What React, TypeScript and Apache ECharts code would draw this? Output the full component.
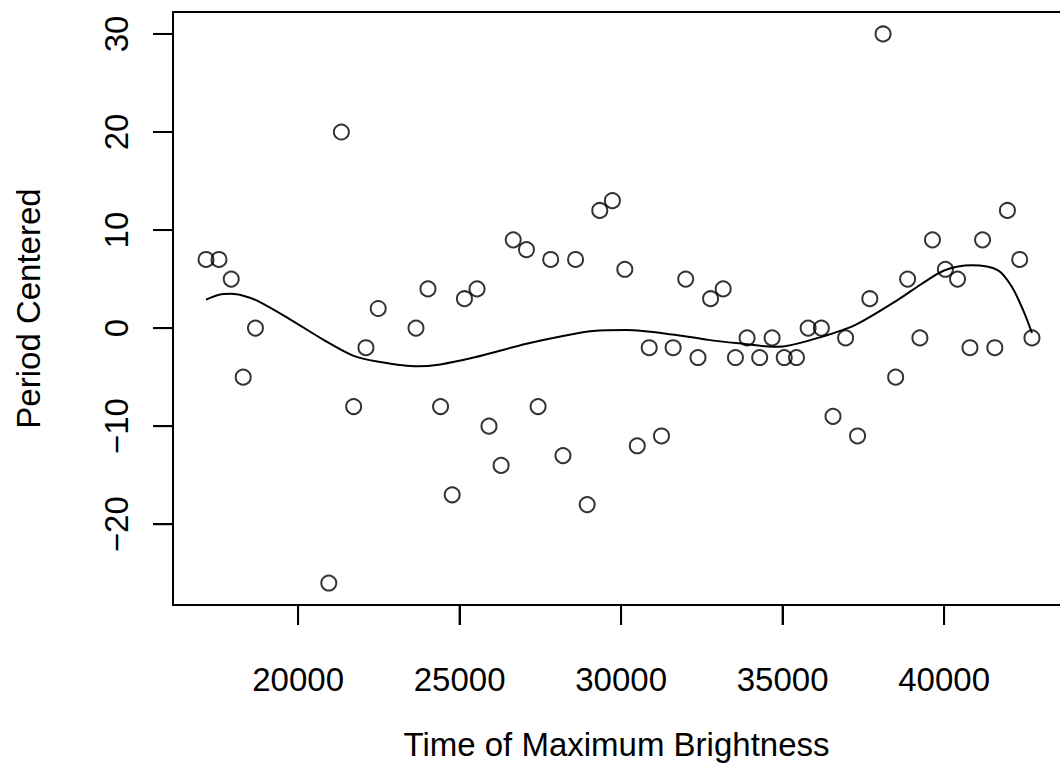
import React, { useEffect, useRef } from "react";
import * as echarts from "echarts";

// Observed points: time of maximum brightness vs. period (centered)
const timeValues: number[] = [
  17150, 17550, 17930, 18300, 18680, 20950, 21340, 21720, 22100, 22480,
  23650, 24020, 24410, 24770, 25150, 25540, 25910, 26285, 26660, 27070,
  27430, 27820, 28200, 28590, 28950, 29340, 29730, 30115, 30500, 30870,
  31250, 31610, 32000, 32380, 32770, 33160, 33540, 33900, 34290, 34675,
  35050, 35430, 35790, 36200, 36560, 36950, 37320, 37700, 38110, 38500,
  38870, 39250, 39640, 40040, 40415, 40800, 41190, 41570, 41960, 42340,
  42720,
];
const periodValues: number[] = [
  7, 7, 5, -5, 0, -26, 20, -8, -2, 2,
  0, 4, -8, -17, 3, 4, -10, -14, 9, 8,
  -8, 7, -13, 7, -18, 12, 13, 6, -12, -2,
  -11, -2, 5, -3, 3, 4, -3, -1, -3, -1,
  -3, -3, 0, 0, -9, -1, -11, 3, 30, -5,
  5, -1, 9, 6, 5, -2, 9, -2, 12, 7,
  -1,
];

// Smooth fitted curve
const curveTime: number[] = [
  17150, 17550, 17930, 18300, 18730, 19700, 20790, 21700, 22450, 23680,
  24400, 25440, 27070, 28200, 29130, 30170, 31710, 32700, 33780, 34700,
  35070, 36100, 37240, 38580, 39300, 40020, 40850, 41670, 42100, 42450,
  42720,
];
const curvePeriod: number[] = [
  2.9, 3.4, 3.5, 3.3, 2.8, 1.0, -1.2, -2.8, -3.4, -3.9,
  -3.7, -3.0, -1.6, -0.8, -0.3, -0.2, -0.7, -1.2, -1.6, -1.9,
  -1.85, -1.0, 0.3, 2.9, 4.5, 5.9, 6.4, 5.9, 4.2, 1.8,
  -0.5,
];

const xTicks: number[] = [20000, 25000, 30000, 35000, 40000];
const yTicks: number[] = [-20, -10, 0, 10, 20, 30];

const FONT = "'Liberation Sans', Arial, Helvetica, sans-serif";
const FS = 33;
const TICK_LEN = 20;

export default function App() {
  const ref = useRef<HTMLDivElement>(null);

  useEffect(() => {
    if (!ref.current) return;
    const chart = echarts.init(ref.current, null, { renderer: "svg" });

    const xmin = Math.min(...timeValues);
    const xmax = Math.max(...timeValues);
    const ymin = Math.min(...periodValues);
    const ymax = Math.max(...periodValues);
    const xr = xmax - xmin;
    const yr = ymax - ymin;
    // R-style 4% padding; the frame's right edge falls just past the canvas
    const xLo = xmin - 0.04 * xr;
    const xHiFull = xmax + 0.04 * xr;
    const yLo = ymin - 0.04 * yr;
    const yHi = ymax + 0.04 * yr;
    const gridLeft = 173;
    const gridTop = 12;
    const gridBottom = 162;
    const fullWidth = 1065 - gridLeft;
    const visWidth = 1060 - gridLeft;
    const xHi = xLo + (xHiFull - xLo) * (visWidth / fullWidth);

    const lineStyle = { color: "#000", width: 2 };

    chart.setOption({
      animation: false,
      backgroundColor: "#ffffff",
      grid: {
        left: gridLeft,
        top: gridTop,
        right: 0,
        bottom: gridBottom,
      },
      xAxis: [
        {
          type: "value",
          position: "bottom",
          min: xLo,
          max: xHi,
          splitLine: { show: false },
          axisLine: { show: true, onZero: false, lineStyle },
          axisTick: { show: true, length: TICK_LEN, customValues: xTicks, lineStyle },
          axisLabel: {
            customValues: xTicks,
            color: "#000",
            fontFamily: FONT,
            fontSize: FS,
            lineHeight: FS,
            align: "center",
            verticalAlign: "top",
            margin: 58,
            formatter: (v: number) => String(v),
          },
          name: "Time of Maximum Brightness",
          nameLocation: "middle",
          nameGap: 123,
          nameTextStyle: { color: "#000", fontFamily: FONT, fontSize: FS, lineHeight: FS },
        },
        {
          // top edge of the plot frame
          type: "value",
          position: "top",
          min: xLo,
          max: xHi,
          splitLine: { show: false },
          axisLine: { show: true, onZero: false, lineStyle },
          axisTick: { show: false },
          axisLabel: { show: false },
        },
      ],
      yAxis: {
        type: "value",
        min: yLo,
        max: yHi,
        splitLine: { show: false },
        axisLine: { show: true, onZero: false, lineStyle },
        axisTick: { show: true, length: TICK_LEN, customValues: yTicks, lineStyle },
        axisLabel: {
          customValues: yTicks,
          rotate: 90,
          align: "center",
          verticalAlign: "bottom",
          color: "#000",
          fontFamily: FONT,
          fontSize: FS,
          lineHeight: FS,
          margin: 40,
          formatter: (v: number) => (v < 0 ? "\u2212" + Math.abs(v) : String(v)),
        },
        name: "Period Centered",
        nameLocation: "middle",
        nameRotate: 90,
        nameGap: 128,
        nameTextStyle: { color: "#000", fontFamily: FONT, fontSize: FS, lineHeight: FS },
      },
      series: [
        {
          type: "scatter",
          xAxisIndex: 0,
          data: timeValues.map((t, i) => [t, periodValues[i]]),
          symbol: "circle",
          symbolSize: 15,
          itemStyle: { color: "transparent", borderColor: "#000", borderWidth: 2 },
          silent: true,
        },
        {
          type: "line",
          xAxisIndex: 0,
          data: curveTime.map((t, i) => [t, curvePeriod[i]]),
          showSymbol: false,
          smooth: 0.3,
          lineStyle: { color: "#000", width: 2 },
          silent: true,
        },
      ],
    });

    // Outward tick marks as filled rects, positioned through the chart's scales
    const toPx = (finder: any, v: number, fallback: number) => {
      const p = chart.convertToPixel(finder, v) as any;
      const n = Array.isArray(p) ? p[0] : p;
      return typeof n === "number" && isFinite(n) ? n : fallback;
    };
    const H = 767 - gridTop - gridBottom;
    const W = 1060 - gridLeft;
    const axisX = gridLeft;
    const axisY = gridTop + H;
    const marks: any[] = [];
    yTicks.forEach((v) => {
      const py = toPx({ yAxisIndex: 0 }, v, gridTop + ((yHi - v) / (yHi - yLo)) * H);
      marks.push({
        type: "rect",
        z: 100,
        silent: true,
        shape: { x: axisX - TICK_LEN, y: py - 1, width: TICK_LEN, height: 2 },
        style: { fill: "#000" },
      });
    });
    xTicks.forEach((v) => {
      const px = toPx({ xAxisIndex: 0 }, v, gridLeft + ((v - xLo) / (xHi - xLo)) * W);
      marks.push({
        type: "rect",
        z: 100,
        silent: true,
        shape: { x: px - 1, y: axisY, width: 2, height: TICK_LEN },
        style: { fill: "#000" },
      });
    });
    chart.setOption({ graphic: { elements: marks } });

    return () => chart.dispose();
  }, []);

  return (
    <div
      ref={ref}
      style={{ position: "absolute", left: 0, top: 0, width: 1060, height: 767 }}
    />
  );
}
